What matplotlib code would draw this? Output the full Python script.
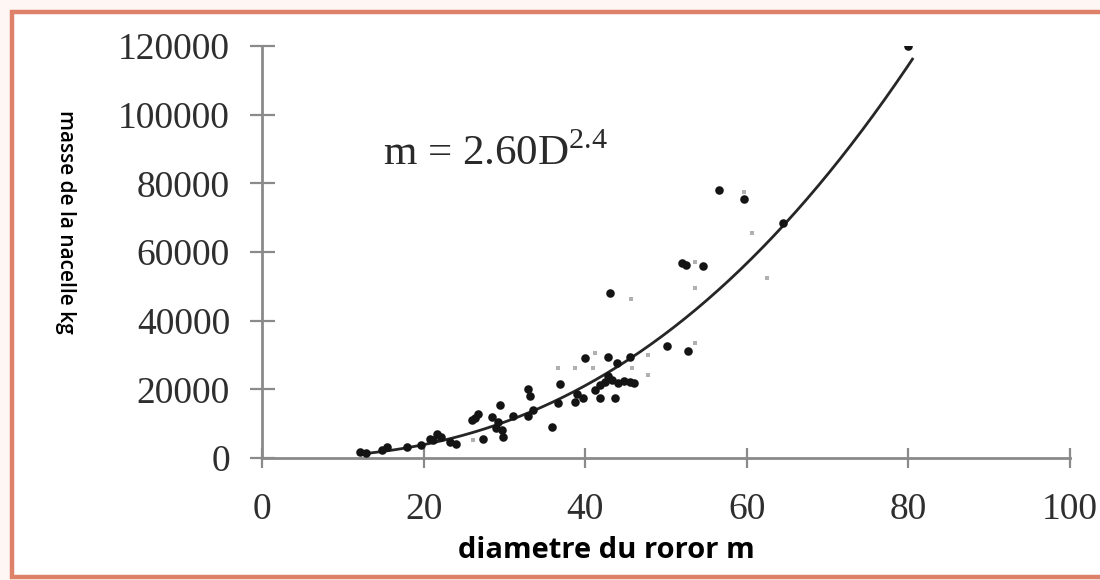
import numpy as np
import matplotlib
matplotlib.use("Agg")
import matplotlib.pyplot as plt
from matplotlib.patches import Rectangle

# diamètre du rotor (m) et masse de la nacelle (kg) des machines relevées
diam_pts = [12.1, 12.9, 14.9, 15.5, 17.9, 19.7, 20.8, 21.7, 21.2, 22.2,
            23.3, 24.0, 26.0, 26.7, 26.4, 27.4, 28.5, 29.5, 29.0, 29.7,
            29.8, 29.2, 31.1, 32.9, 33.2, 32.9, 33.5, 35.9, 36.9, 36.6,
            39.0, 38.7, 39.7, 40.0, 41.8, 42.8, 43.7, 43.9, 45.5, 42.4,
            43.3, 44.1, 44.8, 45.5, 46.0, 42.8, 41.8, 41.2, 43.1, 50.1,
            52.7, 52.0, 52.5, 54.6, 56.6, 59.7, 64.5, 80.0]
masse_pts = [1750, 1460, 2330, 3200, 3200, 3790, 5530, 7000, 5240, 6120,
             4660, 4080, 11070, 12820, 11650, 5530, 11940, 15440, 8740, 8160,
             6120, 10490, 12240, 20100, 18060, 12240, 13980, 9030, 21560, 16020,
             18640, 16310, 17480, 29130, 17480, 29420, 17480, 27670, 29420, 22140,
             22720, 21850, 22430, 22140, 21850, 23890, 21270, 19810, 48060, 32630,
             31170, 56800, 56220, 55930, 78070, 75450, 68460, 120000]

# points estompés (données secondaires)
diam_gris = [26.1, 36.6, 38.7, 41.0, 41.2, 45.8, 47.8, 47.8, 45.7, 53.6,
             53.6, 53.6, 60.6, 62.5, 59.7]
masse_gris = [5240, 26220, 26220, 26220, 30590, 26220, 30000, 24180, 46320, 49520,
              33500, 57100, 65540, 52430, 77490]

# loi de régression m = a D^b
coef_a = 2.60
expo_b = 2.44
d_min, d_max = 12.0, 80.5

x_ticks = [0, 20, 40, 60, 80, 100]
y_ticks = [0, 20000, 40000, 60000, 80000, 100000, 120000]

plt.rcParams["mathtext.fontset"] = "custom"
plt.rcParams["mathtext.rm"] = "Liberation Serif"

fig = plt.figure(figsize=(11, 5.8), dpi=100)
fig.patch.set_facecolor("#fdf6f4")

# cadre saumon autour du graphique
W, H = 1100, 580
fig.patches.append(Rectangle((12 / W, 3 / H), 1.2, 565 / H, transform=fig.transFigure,
                             facecolor="white", edgecolor="#dd8168", linewidth=3.2,
                             zorder=-1))

ax = fig.add_axes([262 / W, (H - 458) / H, 808 / W, 412 / H])
ax.set_facecolor("none")

dd = np.linspace(d_min, d_max, 300)
ax.plot(dd, coef_a * dd ** expo_b, color="#262626", lw=2.0, zorder=2)

ax.scatter(diam_gris, masse_gris, marker="s", s=10, color="#b0b0b0",
           linewidths=0, zorder=3)
ax.scatter(diam_pts, masse_pts, marker="o", s=38, color="#141414",
           linewidths=0, zorder=4)

ax.set_xlim(0, 100)
ax.set_ylim(0, 120000)
ax.set_xticks(x_ticks)
ax.set_yticks(y_ticks)
ax.set_xticklabels([str(v) for v in x_ticks])
ax.set_yticklabels([str(v) for v in y_ticks])

for s in ["top", "right"]:
    ax.spines[s].set_visible(False)
for s in ["left", "bottom"]:
    ax.spines[s].set_color("#8a8a8a")
    ax.spines[s].set_linewidth(2.0)
ax.spines["left"].set_bounds(0, 120000)
ax.spines["bottom"].set_bounds(0, 100)

ax.tick_params(axis="y", direction="inout", length=18, width=1.6, color="#8a8a8a",
               pad=14, labelsize=27, labelcolor="#2e2e2e")
ax.tick_params(axis="x", direction="inout", length=15, width=1.6, color="#8a8a8a",
               pad=17, labelsize=27, labelcolor="#2e2e2e")
for lab in ax.get_xticklabels() + ax.get_yticklabels():
    lab.set_family("Liberation Serif")

fig.text(383 / W, 1 - 165 / H, f"m = {coef_a:.2f}D$^{{{expo_b:.1f}}}$",
         family="Liberation Serif", fontsize=31, color="#2a2a2a",
         ha="left", va="baseline")

fig.text(606 / W, 1 - 550 / H, "diametre du roror m", family="Open Sans",
         weight="bold", fontsize=21, color="black", ha="center", va="center")
fig.text(65 / W, 1 - 222 / H, "masse de la nacelle kg", family="Open Sans",
         weight="semibold", fontsize=15, color="black", rotation=270,
         ha="center", va="center")

fig.savefig("out.png", dpi=100, facecolor=fig.get_facecolor())
